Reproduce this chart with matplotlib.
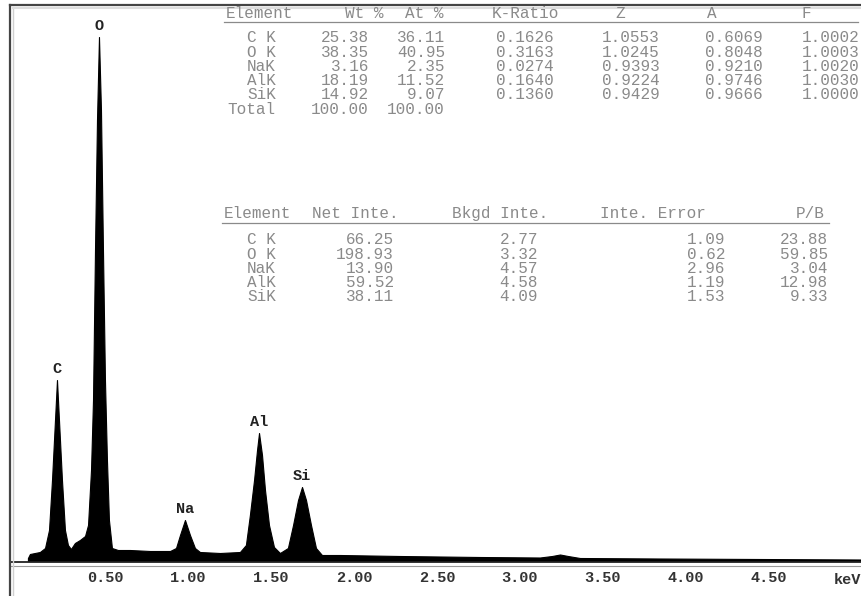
import numpy as np
import matplotlib
matplotlib.use("Agg")
import matplotlib.pyplot as plt
from matplotlib.lines import Line2D

W, H = 861, 596

# spectrum (energy in keV, counts in arbitrary units)
energy = [0.036, 0.048, 0.108, 0.139, 0.163, 0.181, 0.199, 0.211, 0.223, 0.241,
          0.259, 0.277, 0.295, 0.319, 0.349, 0.380, 0.398, 0.416, 0.428, 0.440,
          0.452, 0.464, 0.476, 0.488, 0.500, 0.512, 0.524, 0.542, 0.578, 0.651,
          0.771, 0.892, 0.928, 0.952, 0.982, 1.012, 1.042, 1.072, 1.193, 1.313,
          1.349, 1.373, 1.398, 1.416, 1.428, 1.446, 1.464, 1.488, 1.518, 1.554,
          1.602, 1.633, 1.663, 1.687, 1.711, 1.741, 1.771, 1.807, 1.916, 2.277,
          2.759, 3.120, 3.193, 3.241, 3.289, 3.361, 3.843, 4.446, 5.054]
counts = [3, 7, 9, 13, 31, 81, 141, 181, 141, 81,
          31, 16, 12, 18, 21, 25, 36, 91, 161, 311,
          441, 524, 451, 311, 181, 101, 41, 13, 11, 11,
          10, 10, 13, 26, 41, 26, 13, 9, 8, 9,
          16, 46, 81, 111, 128, 106, 71, 36, 14, 8,
          13, 36, 61, 74, 61, 36, 13, 6, 6, 5,
          4, 3.5, 5, 6.5, 5, 3, 2.5, 2, 1.5]

peak_names = ["C", "O", "Na", "Al", "Si"]
peak_energy = [0.211, 0.464, 0.982, 1.428, 1.687]
peak_counts = [181, 524, 41, 128, 74]

tick_vals = [0.5, 1.0, 1.5, 2.0, 2.5, 3.0, 3.5, 4.0, 4.5]
tick_labels = ["0.50", "1.00", "1.50", "2.00", "2.50", "3.00", "3.50", "4.00", "4.50"]

# quantification tables
elements = ["C K", "O K", "NaK", "AlK", "SiK"]
wt_pct = ["25.38", "38.35", "3.16", "18.19", "14.92"]
at_pct = ["36.11", "40.95", "2.35", "11.52", "9.07"]
k_ratio = ["0.1626", "0.3163", "0.0274", "0.1640", "0.1360"]
z_corr = ["1.0553", "1.0245", "0.9393", "0.9224", "0.9429"]
a_corr = ["0.6069", "0.8048", "0.9210", "0.9746", "0.9666"]
f_corr = ["1.0002", "1.0003", "1.0020", "1.0030", "1.0000"]
wt_total, at_total = "100.00", "100.00"

net_inte = ["66.25", "198.93", "13.90", "59.52", "38.11"]
bkgd_inte = ["2.77", "3.32", "4.57", "4.58", "4.09"]
inte_err = ["1.09", "0.62", "2.96", "1.19", "1.53"]
p_b = ["23.88", "59.85", "3.04", "12.98", "9.33"]

fig = plt.figure(figsize=(W / 100, H / 100), dpi=100)
fig.patch.set_facecolor("white")


def fx(px):
    return px / W


def fy(py):
    return 1 - py / H


def txt(px, py, s, ha="left", color="#8a8a8a", size=11.5, weight="normal"):
    fig.text(fx(px), fy(py), s, ha=ha, va="center", color=color, fontsize=size,
             family="Liberation Mono", weight=weight)


def hline(x0, x1, py, color, lw):
    fig.add_artist(Line2D([fx(x0), fx(x1)], [fy(py), fy(py)], color=color, lw=lw))


# spectrum axes
ax = fig.add_axes([fx(10), fy(563), fx(861) - fx(10), fy(5) - fy(563)])
ax.set_xlim(-0.072, 5.054)
ax.set_ylim(-2, 556)
ax.fill_between(energy, 0, counts, color="black", lw=0.8, edgecolor="black")
for s in ax.spines.values():
    s.set_visible(False)
ax.set_yticks([])
ax.set_xticks(tick_vals)
ax.set_xticklabels(tick_labels)
ax.tick_params(axis="x", length=0, pad=6, labelsize=11, labelcolor="#333333")
for lab in ax.get_xticklabels():
    lab.set_family("Liberation Mono")
    lab.set_weight("bold")
ax.text(4.97, -12, "keV", ha="center", va="top", fontsize=11, color="#333333",
        family="Liberation Mono", weight="bold")
for name, e, c in zip(peak_names, peak_energy, peak_counts):
    ax.text(e, c + 4, name, ha="center", va="bottom", fontsize=11,
            family="Liberation Mono", weight="bold", color="#222222")

# axis baseline (double line) and frame
hline(10, 861, 562, "#222222", 1.3)
hline(10, 861, 565.5, "#9a9a9a", 0.8)
fig.add_artist(Line2D([fx(10), fx(10)], [fy(5), fy(596)], color="#444444", lw=1.6))
hline(10, 861, 5, "#444444", 1.6)
fig.add_artist(Line2D([fx(13), fx(13)], [fy(7), fy(596)], color="#d0d0d0", lw=1.0))
hline(13, 861, 8, "#dddddd", 1.5)

# table 1
hdr_y, line_y, row0, dy = 14, 22, 38, 14.2
txt(226, hdr_y, "Element")
txt(345, hdr_y, "Wt %")
txt(405, hdr_y, "At %")
txt(492, hdr_y, "K-Ratio")
txt(620, hdr_y, "Z", ha="center")
txt(712, hdr_y, "A", ha="center")
txt(806, hdr_y, "F", ha="center")
hline(224, 858, line_y, "#8a8a8a", 0.9)
cols1 = [(369, wt_pct), (445, at_pct), (554, k_ratio), (660, z_corr), (763, a_corr), (860, f_corr)]
for i, el in enumerate(elements):
    y = row0 + i * dy
    txt(276, y, el, ha="right")
    for xr, vals in cols1:
        txt(xr, y, vals[i], ha="right")
y = row0 + 5 * dy
txt(276, y, "Total", ha="right")
txt(369, y, wt_total, ha="right")
txt(445, y, at_total, ha="right")

# table 2
hdr2_y, line2_y, row2, dy2 = 213, 223, 240, 14.2
txt(224, hdr2_y, "Element")
txt(312, hdr2_y, "Net Inte.")
txt(452, hdr2_y, "Bkgd Inte.")
txt(600, hdr2_y, "Inte. Error")
txt(825, hdr2_y, "P/B", ha="right")
hline(222, 829, line2_y, "#8a8a8a", 0.9)
cols2 = [(394, net_inte), (538, bkgd_inte), (725, inte_err), (828, p_b)]
for i, el in enumerate(elements):
    y = row2 + i * dy2
    txt(276, y, el, ha="right")
    for xr, vals in cols2:
        txt(xr, y, vals[i], ha="right")

fig.savefig("out.png", dpi=100)
